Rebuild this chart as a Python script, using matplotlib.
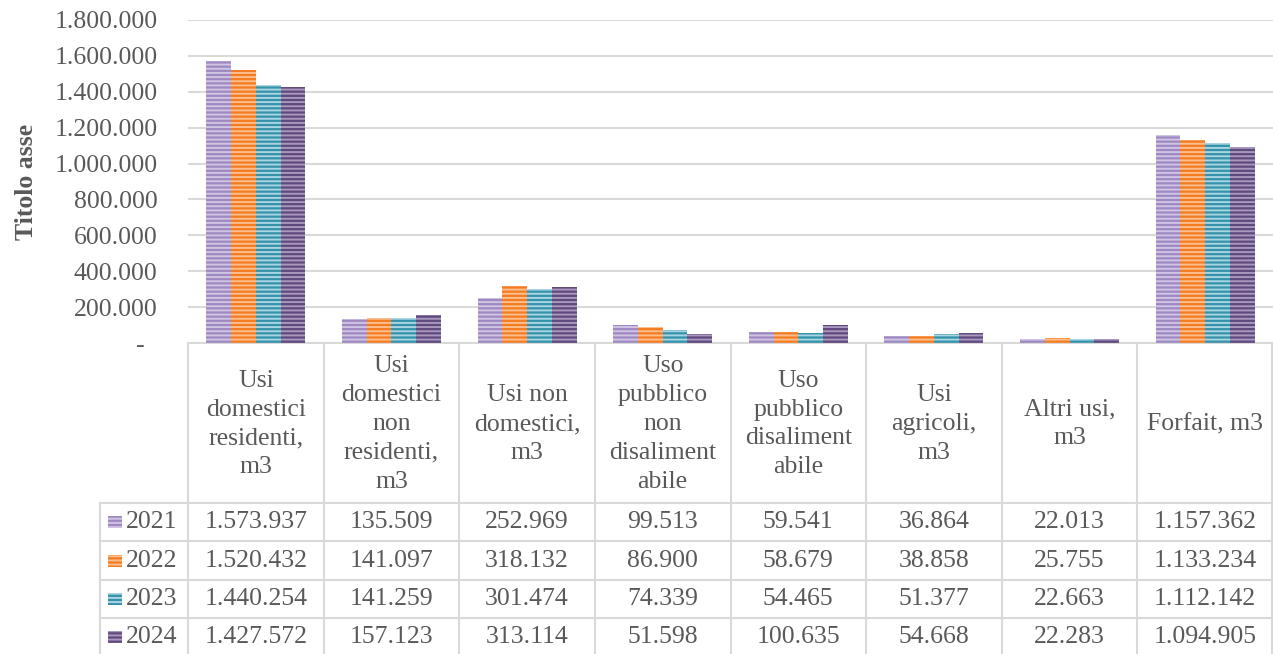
import matplotlib
matplotlib.use("Agg")
import matplotlib.pyplot as plt
import numpy as np

# dati
categorie = ["Usi\ndomestici\nresidenti,\nm3",
             "Usi\ndomestici\nnon\nresidenti,\nm3",
             "Usi non\ndomestici,\nm3",
             "Uso\npubblico\nnon\ndisaliment\nabile",
             "Uso\npubblico\ndisaliment\nabile",
             "Usi\nagricoli,\nm3",
             "Altri usi,\nm3",
             "Forfait, m3"]
anni = ["2021", "2022", "2023", "2024"]
v2021 = [1573937, 135509, 252969, 99513, 59541, 36864, 22013, 1157362]
v2022 = [1520432, 141097, 318132, 86900, 58679, 38858, 25755, 1133234]
v2023 = [1440254, 141259, 301474, 74339, 54465, 51377, 22663, 1112142]
v2024 = [1427572, 157123, 313114, 51598, 100635, 54668, 22283, 1094905]
valori = [v2021, v2022, v2023, v2024]
y_ticks = np.arange(0, 1800001, 200000)

colori = ['#9f89c2', '#f47b20', '#3592ab', '#60497d']
righe = ['#cfc4e2', '#fbbf8f', '#a8d5e1', '#a898be']

plt.rcParams['font.family'] = ['Liberation Serif', 'DejaVu Serif']
plt.rcParams['hatch.linewidth'] = 1.4
grigio = '#595959'
linea = '#d9d9d9'
fs = 18.5

W, H = 1273, 654
fig = plt.figure(figsize=(W / 100, H / 100), dpi=100)

x0, x1 = 188, 1273      # area grafico (pixel)
ytop, ybase = 20, 343
ax = fig.add_axes([x0 / W, 1 - ybase / H, (x1 - x0) / W, (ybase - ytop) / H])

n = len(categorie)
gruppo = 0.73
larg = gruppo / len(anni)
x = np.arange(n) + 0.5
for i, serie in enumerate(valori):
    pos = x - gruppo / 2 + larg * (i + 0.5)
    ax.bar(pos, serie, width=larg, color=colori[i], edgecolor=righe[i],
           linewidth=0, hatch='----', zorder=3)

ax.set_xlim(0, n)
ax.set_ylim(0, 1800000)
ax.set_yticks(y_ticks)
ax.set_yticklabels(["-  " if v == 0 else f"{v:,}".replace(",", ".") for v in y_ticks],
                   fontsize=fs, color=grigio)
ax.tick_params(axis='y', length=0, pad=22)
ax.set_xticks([])
ax.grid(axis='y', color=linea, linewidth=1.5, zorder=0)
for s in ax.spines.values():
    s.set_visible(False)
ax.set_ylabel("Titolo asse", fontsize=fs, fontweight='bold', color=grigio)
ax.yaxis.label.set_va('center')
ax.yaxis.set_label_coords(-0.149, 0.5)

# tabella dati
tab = fig.add_axes([0, 0, 1, 1], zorder=-1)
tab.set_xlim(0, W)
tab.set_ylim(H, 0)
tab.axis('off')

colw = (x1 - x0) / n
hdr_bottom = 503
rowh = 38.4
xl = 100
righe_y = [hdr_bottom + rowh * k for k in range(len(anni) + 1)]

# linee orizzontali
tab.plot([x0, x1], [ybase, ybase], color=linea, lw=1.5)
for yy in righe_y:
    tab.plot([xl, x1], [yy, yy], color=linea, lw=1.5)
# linee verticali
for k in range(n + 1):
    xx = min(x0 + colw * k, x1 - 1)
    tab.plot([xx, xx], [ybase, H + 5], color=linea, lw=1.5)
tab.plot([xl, xl], [hdr_bottom, H + 5], color=linea, lw=1.5)

# intestazioni
for k, c in enumerate(categorie):
    tab.text(x0 + colw * (k + 0.5), (ybase + hdr_bottom) / 2 + 1, c, ha='center', va='center',
             fontsize=fs, color=grigio, linespacing=1.4)

# righe
for r, anno in enumerate(anni):
    yc = righe_y[r] + rowh / 2
    tab.add_patch(plt.Rectangle((108, yc - 6), 14, 12, facecolor=colori[r],
                                edgecolor=righe[r], linewidth=0, hatch='----'))
    tab.text(126, yc, anno, ha='left', va='center', fontsize=fs, color=grigio)
    for k, v in enumerate(valori[r]):
        tab.text(x0 + colw * (k + 0.5), yc, f"{v:,}".replace(",", "."), ha='center',
                 va='center', fontsize=fs, color=grigio)

fig.savefig("out.png", dpi=100)
